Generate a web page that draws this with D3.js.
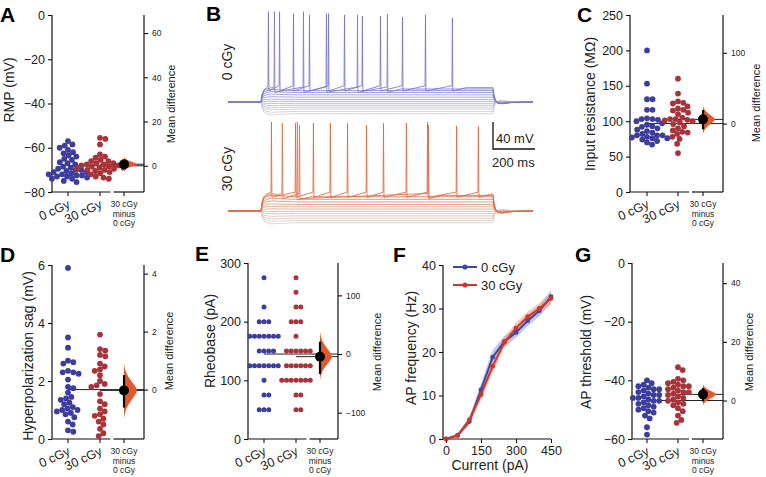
<!DOCTYPE html>
<html><head><meta charset="utf-8">
<script src="https://cdn.jsdelivr.net/npm/d3@7"></script>
<style>body{margin:0;background:#fff}</style>
</head><body>
<svg id="c" width="766" height="477"></svg>
<script>
// ---------------- DATA ----------------
const groupLabels = ["0 cGy", "30 cGy"];
const deltaLabel = ["30 cGy", "minus", "0 cGy"];

// A: resting membrane potential (mV)
const rmp0 = [-57,-58.5,-59,-60,-61,-62,-62.5,-63.5,-64,-65,-65.5,-66.5,-67,-67.5,-68.5,-69,-69.5,-70,-70,-70.5,-71,-71,-71.5,-72,-72,-72.5,-72.5,-73,-73,-73.5,-74,-74,-75,-75.5];
const rmp30 = [-55.5,-56,-58.5,-63,-64,-64.5,-65.5,-66,-66,-67,-67,-67.5,-67.5,-68,-68,-68.5,-68.5,-69,-69,-69.5,-69.5,-70,-70,-70.5,-71,-71.5,-72,-73,-73.5,-74];
const rmpCI = [-1.2, 2.6], rmpBoot = [-2.5, 4];

// C: input resistance (MOhm)
const rin0 = [200,153,131,131,116,116,104,103,103,102,100,97,95,93,92,90,88,86,84,82,80,80,80,78,77,76,76,74,72,70,67];
const rin30 = [160,139,128,126,125,121,118,116,115,112,110,105,103,103,102,101,100,98,96,93,90,87,85,84,82,78,75,68,55];
const rinCI = [-8, 19], rinBoot = [-15, 25];

// D: hyperpolarization sag (mV)
const sag0 = [5.9,3.5,3.15,2.7,2.65,2.6,2.35,2.3,2.3,2.25,2.05,1.8,1.75,1.6,1.45,1.4,1.35,1.25,1.2,1.1,1.05,1.0,1.0,0.95,0.9,0.85,0.75,0.6,0.5,0.3,0.25];
const sag30 = [3.6,3.1,3.05,2.9,2.85,2.6,2.5,2.4,2.35,2.2,2.0,1.9,1.85,1.8,1.55,1.3,1.2,1.05,0.95,0.85,0.8,0.7,0.6,0.5,0.35,0.2,0.1];
const sagCI = [-0.62, 0.5], sagBoot = [-1.0, 0.9];

// E: rheobase (pA)
const rheo0 = [275,225,200,200,200,175,175,175,175,175,175,175,150,150,150,150,125,125,125,125,125,125,125,100,75,75,50,50,50];
const rheo30 = [275,250,225,225,200,200,200,175,150,150,150,150,150,150,125,125,125,125,125,125,100,100,100,100,100,100,100,75,75,50,50];
const rheoCI = [-34, 21], rheoBoot = [-44, 38];

// G: AP threshold (mV)
const thr0 = [-40,-41,-41.5,-42,-42.5,-43,-43,-43.5,-44,-44.5,-45,-45,-45.5,-46,-46,-46.5,-47,-47,-47.5,-48,-48.5,-49,-49.5,-50,-50.5,-51,-52,-53,-56,-58.5];
const thr30 = [-35.5,-36.5,-39.5,-40,-40.5,-41,-41.5,-42,-42,-42.5,-43,-43.5,-44,-44,-44.5,-45,-45.5,-46,-46.5,-47,-47.5,-48,-48.5,-49.5,-50.5,-52,-53.5,-54.5];
const thrCI = [-0.3, 4.3], thrBoot = [-1.8, 5.6];

// bootstrap distribution profile (relative width, lo -> delta -> hi)
const bootShape = [0, 0.06, 0.2, 0.45, 0.75, 1, 0.75, 0.45, 0.2, 0.06, 0];

// F: f-I curve
const currents = [0,50,100,150,200,250,300,350,400,450];
const freq0 = [0,0.9,4.0,11.3,18.8,22.4,24.5,27.2,29.5,32.7];
const sem0  = [0,0.4,0.9,1.5,1.6,1.3,1.2,1.3,1.3,1.5];
const freq30 = [0,0.8,4.4,10.2,16.7,22.2,25.5,28.1,30.0,32.3];
const sem30  = [0,0.4,0.9,1.3,1.5,1.2,1.2,1.2,1.2,1.3];
const fTicksX = [0,150,300,450], fTicksY = [0,10,20,30,40];

// B: example traces (step amplitude in mV relative to rest, spikes as [time ms, peak mV])
const restMV = -70;
const amps0 = [-18,-14.5,-11,-8,-5,-2,1,4,7.5,11,14.5,17.5,20,22];
const spikes0 = [[],[],[],[],[],[],[],[],[],[],[],[],
  [[56,69],[181,69],[280,66],[414,64],[543,65]],
  [[30,69],[78,69],[138,66],[207,64],[289,66],[358,64],[435,62],[513,62],[608,61],[707,64],[823,59]]];
const amps30 = [-18,-14.5,-11,-7.5,-4,-0.5,3,6.5,10,14,18,22,24,26];
const spikes30 = [[],[],[],[],[],[],[],[],[],[],[],
  [[155,67]],
  [[90,65],[164,62],[720,62]],
  [[43,67],[147,65],[224,65],[297,65],[371,65],[453,62],[526,65],[625,65],[716,67],[841,61],[935,60]]];
const onsetT = [0,5,12,25,45,80,150], onsetF = [0,0.55,0.85,1.0,1.1,1.06,1.0];
const offsetT = [0,4,10,20,40,80,172], offsetF = [1,0.5,0.15,-0.1,-0.12,-0.04,0];

// ---------------- DRAW ----------------
const FONT = "'Liberation Sans', Arial, Helvetica, sans-serif";
const BLUE = "#3d3d9e", RED = "#a83338", DELTA = "#e3592b";
const svg = d3.select("#c").attr("font-family", FONT);
const fmt = d3.format("~g");

function letter(t, x, y) {
  svg.append("text").attr("x", x).attr("y", y).attr("font-size", 21).attr("font-weight", "bold").text(t);
}
function vlabel(t, x, y, size) {
  svg.append("text").attr("transform", `translate(${x},${y}) rotate(-90)`).attr("text-anchor", "middle")
    .attr("font-size", size).attr("fill", "#222").text(t);
}
function styleAxis(g, size) {
  g.select(".domain").remove();
  g.selectAll("line").attr("stroke", "#111").attr("stroke-width", 1.1);
  g.selectAll("text").attr("font-family", FONT).attr("font-size", size).attr("fill", "#222");
}

function beeswarm(vals, y, cx, r) {
  const d = 2 * r * 0.95;
  const pts = vals.map(v => ({ y: y(v) })).sort((a, b) => a.y - b.y);
  const placed = [];
  pts.forEach(p => {
    const cands = [0];
    placed.forEach(q => {
      const dy = p.y - q.y;
      if (Math.abs(dy) < d) { const dx = Math.sqrt(d * d - dy * dy); cands.push(q.x + dx, q.x - dx); }
    });
    cands.sort((a, b) => Math.abs(a) - Math.abs(b));
    for (const c of cands) {
      if (placed.every(q => (q.x - c) ** 2 + (q.y - p.y) ** 2 >= d * d - 0.01)) { p.x = c; break; }
    }
    placed.push(p);
  });
  return placed.map(p => ({ cx: cx + p.x, cy: p.y }));
}

function swarmPanel(o) {
  const y = d3.scaleLinear().domain(o.domain).range([o.bottom, o.top]);
  const mC = d3.mean(o.c), mT = d3.mean(o.t), delta = mT - mC;
  const yR = d3.scaleLinear().domain([o.domain[0] - mC, o.domain[1] - mC]).range([o.bottom, o.top]);
  const [xc, xt, xd] = o.xs;
  svg.append("line").attr("x1", o.left).attr("x2", o.left).attr("y1", o.top).attr("y2", o.bottom).attr("stroke", "#111").attr("stroke-width", 1.2);
  svg.append("line").attr("x1", o.right).attr("x2", o.right).attr("y1", o.top).attr("y2", o.bottom).attr("stroke", "#111").attr("stroke-width", 1.2);
  const gap = (xt + xd) / 2;
  svg.append("line").attr("x1", o.left).attr("x2", gap - 1.5).attr("y1", o.bottom).attr("y2", o.bottom).attr("stroke", "#111").attr("stroke-width", 1.2);
  svg.append("line").attr("x1", gap + 1.5).attr("x2", o.right).attr("y1", o.bottom).attr("y2", o.bottom).attr("stroke", "#111").attr("stroke-width", 1.2);
  o.xs.forEach(x => svg.append("line").attr("x1", x).attr("x2", x).attr("y1", o.bottom).attr("y2", o.bottom + 4).attr("stroke", "#111").attr("stroke-width", 1.1));
  const gl = svg.append("g").attr("transform", `translate(${o.left},0)`)
    .call(d3.axisLeft(y).tickValues(o.ticks).tickFormat(fmt).tickSize(4).tickPadding(3));
  styleAxis(gl, 12.5);
  const gr = svg.append("g").attr("transform", `translate(${o.right},0)`)
    .call(d3.axisRight(yR).tickValues(o.rTicks).tickFormat(fmt).tickSize(4).tickPadding(4));
  styleAxis(gr, 8.5);
  svg.append("line").attr("x1", xc).attr("x2", o.right).attr("y1", y(mC)).attr("y2", y(mC)).attr("stroke", "#222").attr("stroke-width", 1);
  svg.append("line").attr("x1", xt).attr("x2", o.right).attr("y1", y(mT)).attr("y2", y(mT)).attr("stroke", "#222").attr("stroke-width", 1);
  [[o.c, xc, BLUE], [o.t, xt, RED]].forEach(([vals, cx, col]) => {
    svg.append("g").selectAll("circle").data(beeswarm(vals, y, cx, o.r)).join("circle")
      .attr("cx", d => d.cx).attr("cy", d => d.cy).attr("r", o.r).attr("fill", col);
  });
  const n = bootShape.length, w = o.vw;
  const vp = bootShape.map((s, i) => {
    const f = i / (n - 1);
    const v = f <= 0.5 ? o.boot[0] + (delta - o.boot[0]) * (f / 0.5) : delta + (o.boot[1] - delta) * ((f - 0.5) / 0.5);
    return [xd + s * w, yR(v)];
  });
  svg.append("path").attr("d", d3.area().y(d => d[1]).x0(xd).x1(d => d[0]).curve(d3.curveBasis)(vp)).attr("fill", DELTA);
  svg.append("line").attr("x1", xd).attr("x2", xd).attr("y1", yR(o.ci[0])).attr("y2", yR(o.ci[1])).attr("stroke", "#000").attr("stroke-width", 2.2);
  svg.append("circle").attr("cx", xd).attr("cy", yR(delta)).attr("r", 5).attr("fill", "#000");
  [[groupLabels[0], xc], [groupLabels[1], xt]].forEach(([t, x]) => {
    svg.append("text").attr("transform", `translate(${x + 3},${o.bottom + 15}) rotate(-25)`).attr("text-anchor", "end")
      .attr("font-size", 12.5).attr("fill", "#222").text(t);
  });
  deltaLabel.forEach((t, i) => svg.append("text").attr("x", xd).attr("y", o.bottom + 15 + i * 9.5)
    .attr("text-anchor", "middle").attr("font-size", 8.5).attr("fill", "#222").text(t));
  vlabel(o.ylabel, o.ylx, o.yly, 14);
  vlabel("Mean difference", o.mdx, o.mdy, 11);
  letter(o.letter, o.lx, o.ly);
}

swarmPanel({ left: 52, right: 144, top: 15, bottom: 192, xs: [68, 100, 124], domain: [-80, 0], ticks: [-80, -60, -40, -20, 0], rTicks: [0, 20, 40, 60],
  c: rmp0, t: rmp30, ci: rmpCI, boot: rmpBoot, r: 2.9, vw: 14, ylabel: "RMP (mV)", ylx: 14, yly: 90, mdx: 175, mdy: 104, letter: "A", lx: 0, ly: 22 });
swarmPanel({ left: 630, right: 723, top: 15, bottom: 192, xs: [647, 678, 703], domain: [0, 250], ticks: [0, 50, 100, 150, 200, 250], rTicks: [0, 100],
  c: rin0, t: rin30, ci: rinCI, boot: rinBoot, r: 2.9, vw: 13, ylabel: "Input resistance (MΩ)", ylx: 595, yly: 104, mdx: 760, mdy: 103, letter: "C", lx: 577, ly: 22 });
swarmPanel({ left: 52, right: 144, top: 265, bottom: 439, xs: [68, 100, 124], domain: [0, 6], ticks: [0, 2, 4, 6], rTicks: [0, 2, 4],
  c: sag0, t: sag30, ci: sagCI, boot: sagBoot, r: 2.9, vw: 14, ylabel: "Hyperpolarization sag (mV)", ylx: 33, yly: 356, mdx: 173, mdy: 351, letter: "D", lx: 0, ly: 262 });
swarmPanel({ left: 248, right: 338, top: 263, bottom: 439, xs: [264, 296, 320], domain: [0, 300], ticks: [0, 100, 200, 300], rTicks: [-100, 0, 100],
  c: rheo0, t: rheo30, ci: rheoCI, boot: rheoBoot, r: 2.5, vw: 13, ylabel: "Rheobase (pA)", ylx: 215, yly: 341, mdx: 381, mdy: 352, letter: "E", lx: 195, ly: 261 });
swarmPanel({ left: 632, right: 723, top: 263, bottom: 439, xs: [647, 678, 703], domain: [-60, 0], ticks: [-60, -40, -20, 0], rTicks: [0, 20, 40],
  c: thr0, t: thr30, ci: thrCI, boot: thrBoot, r: 2.9, vw: 14, ylabel: "AP threshold (mV)", ylx: 591, yly: 352, mdx: 753, mdy: 352, letter: "G", lx: 575, ly: 262 });

// ---------------- Panel F ----------------
(function () {
  const x = d3.scaleLinear().domain([0, 450]).range([446, 551]);
  const y = d3.scaleLinear().domain([0, 40]).range([439, 265]);
  svg.append("line").attr("x1", 443).attr("x2", 443).attr("y1", 265).attr("y2", 439).attr("stroke", "#111").attr("stroke-width", 1.2);
  svg.append("line").attr("x1", 443).attr("x2", 551).attr("y1", 439).attr("y2", 439).attr("stroke", "#111").attr("stroke-width", 1.2);
  styleAxis(svg.append("g").attr("transform", "translate(443,0)").call(d3.axisLeft(y).tickValues(fTicksY).tickFormat(fmt).tickSize(4).tickPadding(3)), 12.5);
  styleAxis(svg.append("g").attr("transform", "translate(0,439)").call(d3.axisBottom(x).tickValues(fTicksX).tickFormat(fmt).tickSize(4).tickPadding(3)), 12.5);
  const series = [
    { f: freq0, s: sem0, line: "#3b48a8", band: "#8f97d6" },
    { f: freq30, s: sem30, line: "#d2352c", band: "#f09a80" }];
  series.forEach(d => {
    const pts = currents.map((c, i) => ({ c, f: d.f[i], s: d.s[i] }));
    svg.append("path").attr("d", d3.area().x(p => x(p.c)).y0(p => y(p.f - p.s)).y1(p => y(p.f + p.s))(pts))
      .attr("fill", d.band).attr("opacity", 0.55);
  });
  series.forEach(d => {
    const pts = currents.map((c, i) => ({ c, f: d.f[i] }));
    svg.append("path").attr("d", d3.line().x(p => x(p.c)).y(p => y(p.f))(pts)).attr("fill", "none").attr("stroke", d.line).attr("stroke-width", 2);
    svg.append("g").selectAll("circle").data(pts).join("circle").attr("cx", p => x(p.c)).attr("cy", p => y(p.f)).attr("r", 2.4).attr("fill", d.line);
  });
  [[groupLabels[0], series[0].line, 267], [groupLabels[1], series[1].line, 285]].forEach(([t, col, yy]) => {
    svg.append("line").attr("x1", 453).attr("x2", 477).attr("y1", yy).attr("y2", yy).attr("stroke", col).attr("stroke-width", 2);
    svg.append("circle").attr("cx", 465).attr("cy", yy).attr("r", 2.6).attr("fill", col);
    svg.append("text").attr("x", 481).attr("y", yy + 4.5).attr("font-size", 13).attr("fill", "#222").text(t);
  });
  vlabel("AP frequency (Hz)", 416, 348, 14);
  svg.append("text").attr("x", 490).attr("y", 470).attr("text-anchor", "middle").attr("font-size", 14).attr("fill", "#222").text("Current (pA)");
  letter("F", 393, 262);
})();

// ---------------- Panel B ----------------
(function () {
  const x = d3.scaleLinear().domain([0, 1000]).range([261, 493]);
  function tracePts(amp, spikes) {
    const p = [[-142, restMV], [0, restMV]];
    if (!spikes.length) {
      onsetT.forEach((t, i) => { if (i > 0) p.push([t, restMV + amp * onsetF[i]]); });
      p.push([1000, restMV + amp]);
    } else {
      const first = spikes[0][0];
      onsetT.forEach((t, i) => { if (i > 0 && t < first - 2) p.push([t, restMV + amp * onsetF[i]]); });
      spikes.forEach(([ts, pk]) => { p.push([ts, restMV + amp + 3]); p.push([ts + 2, pk]); p.push([ts + 4, restMV + amp - 5]); });
      const last = spikes[spikes.length - 1][0];
      p.push([Math.min(last + 60, 990), restMV + amp]); p.push([1000, restMV + amp]);
    }
    offsetT.forEach((t, i) => { if (i > 0) p.push([1000 + t, restMV + amp * offsetF[i]]); });
    return p;
  }
  const groups = [
    { amps: amps0, spikes: spikes0, base: 102, c0: "#cfcfd6", c1: "#7272cc" },
    { amps: amps30, spikes: spikes30, base: 211, c0: "#d8d0cb", c1: "#e4643a" }];
  groups.forEach(gp => {
    const y = d3.scaleLinear().domain([restMV, restMV + 140]).range([gp.base, gp.base - 91]);
    const line = d3.line().x(d => x(d[0])).y(d => y(d[1]));
    const n = gp.amps.length;
    gp.amps.forEach((a, i) => {
      const col = d3.interpolateRgb(gp.c0, gp.c1)(Math.pow(i / (n - 1), 1.3));
      svg.append("path").attr("d", line(tracePts(a, gp.spikes[i]))).attr("fill", "none").attr("stroke", col).attr("stroke-width", 0.85);
    });
  });
  svg.append("path").attr("d", "M493,122V149H535").attr("fill", "none").attr("stroke", "#111").attr("stroke-width", 1.3);
  svg.append("text").attr("x", 496).attr("y", 143).attr("font-size", 13).attr("fill", "#222").text("40 mV");
  svg.append("text").attr("x", 492).attr("y", 167).attr("font-size", 13).attr("fill", "#222").text("200 ms");
  vlabel(groupLabels[0], 232, 62, 14);
  vlabel(groupLabels[1], 232, 169, 14);
  letter("B", 206, 21);
})();
</script>
</body></html>
